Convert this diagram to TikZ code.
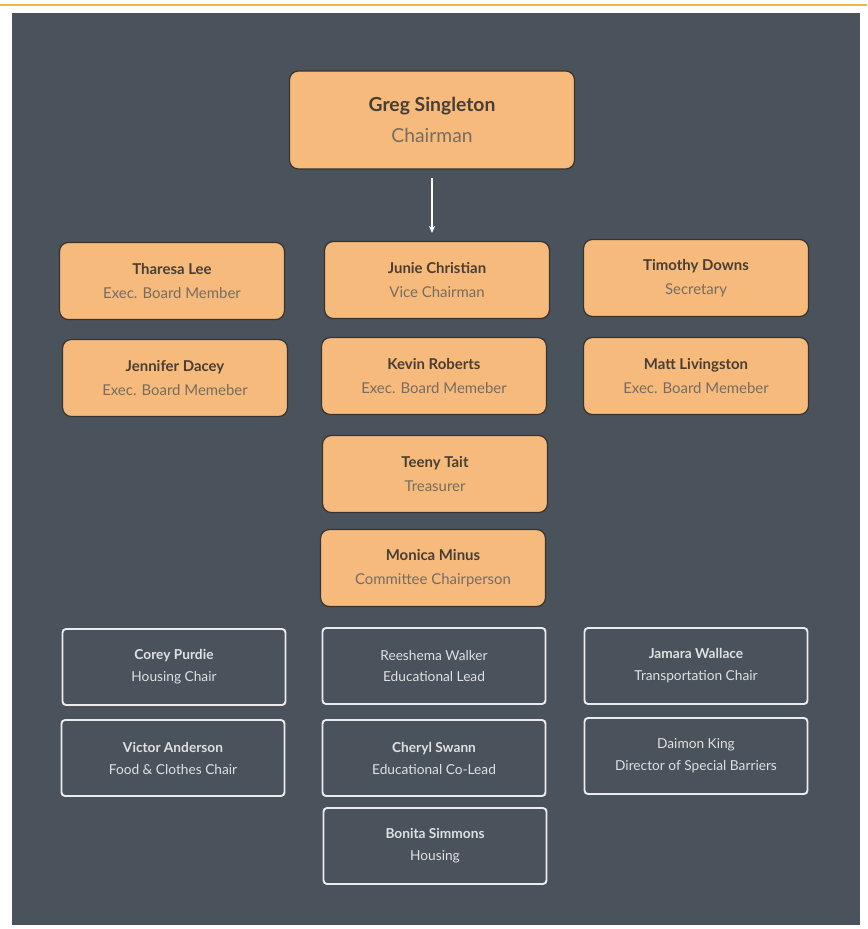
\documentclass[tikz,border=0pt]{standalone}
\usepackage{fontspec}
\setmainfont{Lato}
\usetikzlibrary{arrows.meta}
\definecolor{slate}{RGB}{74,82,92}
\definecolor{tan}{RGB}{246,186,124}
\definecolor{edge}{RGB}{55,52,48}
\definecolor{namecol}{RGB}{72,62,52}
\definecolor{rolecol}{RGB}{118,108,98}
\definecolor{rimline}{RGB}{236,186,60}
\newcommand{\who}[2]{\textbf{\textcolor{namecol}{#1}}\\#2}
\newcommand{\whowhite}[2]{\textbf{#1}\\#2}

\begin{document}
\begin{tikzpicture}[x=0.02cm,y=-0.02cm,
  officer/.style={rounded corners=5pt,fill=tan,draw=edge,line width=0.7pt,
    minimum width=4.5cm,minimum height=1.54cm,inner sep=0pt,align=center,
    text=rolecol,font=\fontsize{8.5}{13.7}\selectfont},
  helper/.style={rounded corners=2pt,draw=white!92!black,line width=1.1pt,
    minimum width=4.46cm,minimum height=1.52cm,inner sep=0pt,align=center,
    text=white!88!black,font=\fontsize{7.8}{12.5}\selectfont}]
\useasboundingbox (0,0) rectangle (867,929);
\fill[white] (0,0) rectangle (867,929);
\draw[rimline,line width=1.2pt] (0,5) -- (867,5);
\fill[slate] (12,13) rectangle (860,925);

\node[officer,minimum width=5.7cm,minimum height=1.96cm,font=\fontsize{11}{17.6}\selectfont] (greg) at (432,120) {\who{Greg Singleton}{Chairman}};

\node[officer] (tharesa) at (172,281) {\who{Tharesa Lee}{Exec. Board Member}};
\node[officer] (junie) at (437,280) {\who{Junie Christian}{Vice Chairman}};
\node[officer] (timothy) at (696,278) {\who{Timothy Downs}{Secretary}};
\node[officer] (jennifer) at (175,378) {\who{Jennifer Dacey}{Exec. Board Memeber}};
\node[officer] (kevin) at (434,376) {\who{Kevin Roberts}{Exec. Board Memeber}};
\node[officer] (matt) at (696,376) {\who{Matt Livingston}{Exec. Board Memeber}};
\node[officer] (teeny) at (435,474) {\who{Teeny Tait}{Treasurer}};
\node[officer] (monica) at (433,568) {\who{Monica Minus}{Committee Chairperson}};

\node[helper] (corey) at (174,667) {\whowhite{Corey Purdie}{Housing Chair}};
\node[helper] (reeshema) at (434,666) {Reeshema Walker\\Educational Lead};
\node[helper] (jamara) at (696,666) {\whowhite{Jamara Wallace}{Transportation Chair}};
\node[helper] (victor) at (173,758) {\whowhite{Victor Anderson}{Food \& Clothes Chair}};
\node[helper] (cheryl) at (434,758) {\whowhite{Cheryl Swann}{Educational Co-Lead}};
\node[helper] (daimon) at (696,756) {Daimon King\\Director of Special Barriers};
\node[helper] (bonita) at (435,846) {\whowhite{Bonita Simmons}{Housing}};

\draw[white,line width=0.9pt,-{Stealth[length=4pt,width=3.5pt]},shorten <=5pt,shorten >=4.5pt] (greg.south) -- (greg.south |- junie.north);
\end{tikzpicture}
\end{document}
